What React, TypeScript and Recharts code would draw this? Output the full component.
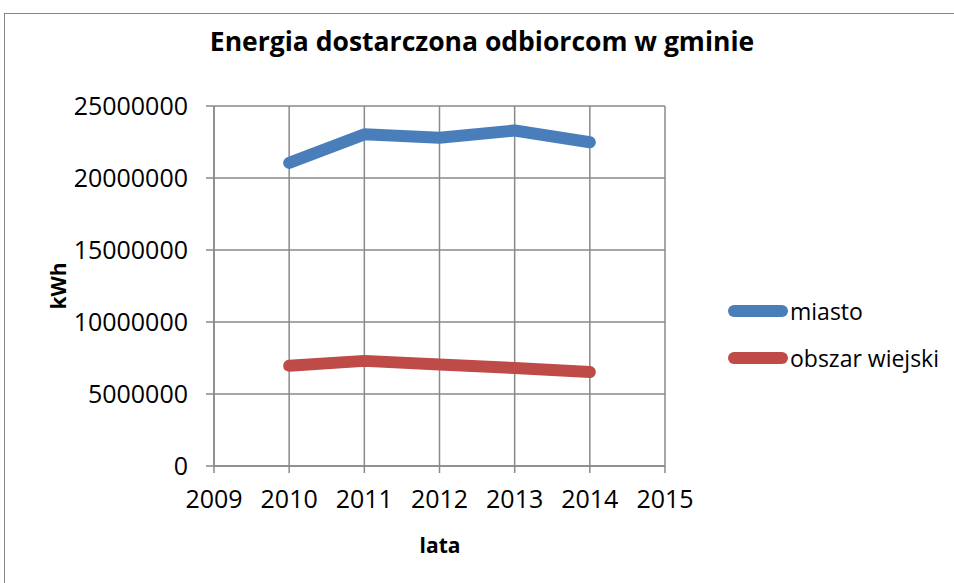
import React from 'react';
import { LineChart, Line, XAxis, YAxis, CartesianGrid, Legend, Customized } from 'recharts';

const years = [2010, 2011, 2012, 2013, 2014];
const miasto = [21050000, 23030000, 22800000, 23300000, 22480000];
const obszarWiejski = [6960000, 7300000, 7050000, 6800000, 6530000];
const xTicks = [2009, 2010, 2011, 2012, 2013, 2014, 2015];
const yTicks = [0, 5000000, 10000000, 15000000, 20000000, 25000000];
const seriesNames = ['miasto', 'obszar wiejski'];
const seriesColors = ['#4A7EBB', '#BE4B48'];
const title = 'Energia dostarczona odbiorcom w gminie';
const xTitle = 'lata';
const yTitle = 'kWh';

const data = years.map((y, i) => ({ year: y, miasto: miasto[i], wies: obszarWiejski[i] }));

const FONT = '"Open Sans", "Noto Sans", sans-serif';
const GRID = '#8a8a8a';

const Titles = () => (
  <g>
    <text x={482} y={51} textAnchor="middle" fontFamily={FONT} fontWeight={700} fontSize={26.5} fill="#000">
      {title}
    </text>
    <text x={440} y={553} textAnchor="middle" fontFamily={FONT} fontWeight={700} fontSize={21} fill="#000">
      {xTitle}
    </text>
    <text x={66} y={286} textAnchor="middle" fontFamily={FONT} fontWeight={700} fontSize={21} fill="#000"
      transform="rotate(-90, 66, 286)">
      {yTitle}
    </text>
  </g>
);

const LegendContent = () => (
  <div style={{ fontFamily: FONT, fontSize: 23, color: '#000' }}>
    {seriesNames.map((n, i) => (
      <div key={n} style={{ display: 'flex', alignItems: 'center', height: 47 }}>
        <svg width={62} height={14} style={{ display: 'block' }}>
          <line x1={7} y1={7} x2={55} y2={7} stroke={seriesColors[i]} strokeWidth={12} strokeLinecap="round" />
        </svg>
        <span style={{ marginLeft: 1, lineHeight: '24px' }}>{n}</span>
      </div>
    ))}
  </div>
);

export default function App() {
  return (
    <div style={{ position: 'fixed', left: 0, top: 0, width: 954, height: 583, overflow: 'hidden', background: '#fff' }}>
      <div style={{ position: 'absolute', left: 4, top: 13, width: 1100, height: 800, border: '1.5px solid #868686', boxSizing: 'border-box' }} />
      <div style={{ position: 'absolute', left: 0, top: 0 }}>
        <LineChart width={954} height={583} data={data} margin={{ top: 106, right: 289, bottom: 67, left: 64 }}>
          <CartesianGrid stroke={GRID} strokeWidth={1.5} />
          <XAxis
            dataKey="year"
            type="number"
            domain={[2009, 2015]}
            ticks={xTicks}
            interval={0}
            height={50}
            stroke={GRID}
            strokeWidth={1.5}
            tickSize={7}
            tickMargin={17}
            tick={{ fill: '#000', fontFamily: FONT, fontSize: 25 }}
            allowDecimals={false}
          />
          <YAxis
            type="number"
            domain={[0, 25000000]}
            ticks={yTicks}
            interval={0}
            width={150}
            stroke={GRID}
            strokeWidth={1.5}
            tickSize={8}
            tickMargin={18}
            tick={{ fill: '#000', fontFamily: FONT, fontSize: 25 }}
          />
          <Line dataKey="miasto" name={seriesNames[0]} stroke={seriesColors[0]} strokeWidth={12} dot={false}
            strokeLinecap="round" strokeLinejoin="round" isAnimationActive={false} />
          <Line dataKey="wies" name={seriesNames[1]} stroke={seriesColors[1]} strokeWidth={12} dot={false}
            strokeLinecap="round" strokeLinejoin="round" isAnimationActive={false} />
          <Legend layout="horizontal" verticalAlign="middle" align="center" content={<LegendContent />}
            wrapperStyle={{ position: 'absolute', left: 727, top: 287, width: 230, margin: 0 }} />
          <Customized component={Titles} />
        </LineChart>
      </div>
    </div>
  );
}
